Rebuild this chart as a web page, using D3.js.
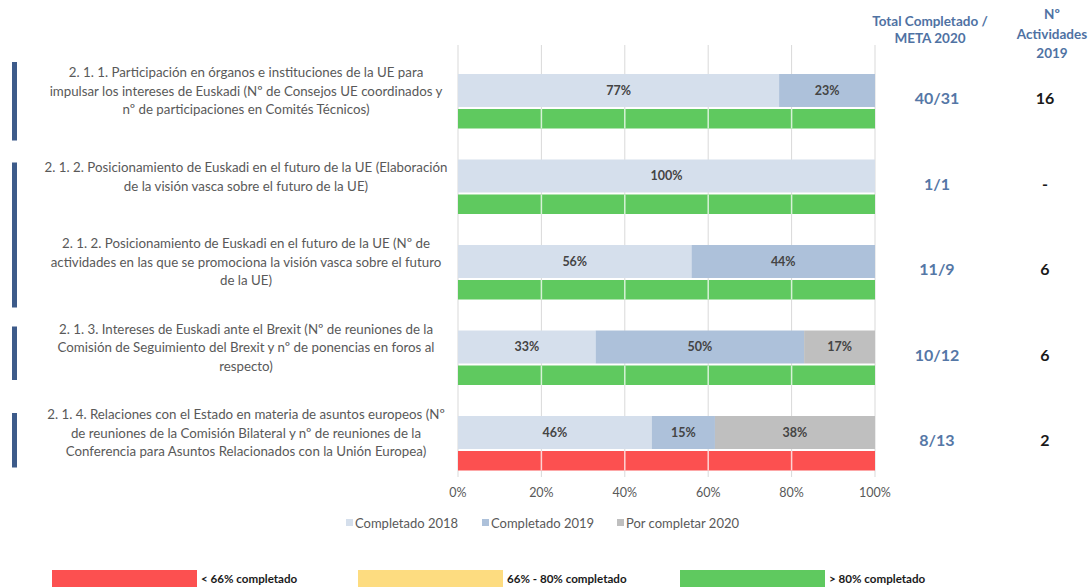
<!DOCTYPE html>
<html><head><meta charset="utf-8">
<script src="https://cdn.jsdelivr.net/npm/d3@7"></script>
<style>
html,body{margin:0;padding:0;background:#fff;}
svg{display:block;font-family:Lato,"Open Sans",sans-serif;}
</style></head>
<body>
<svg id="chart" width="1089" height="587"></svg>
<script>
// ---- data ----
const categories = [
  "2. 1. 1. Participación en órganos e instituciones de la UE para|impulsar los intereses de Euskadi (Nº de Consejos UE coordinados y|nº de participaciones en Comités Técnicos)",
  "2. 1. 2. Posicionamiento de Euskadi en el futuro de la UE (Elaboración|de la visión vasca sobre el futuro de la UE)",
  "2. 1. 2. Posicionamiento de Euskadi en el futuro de la UE (Nº de|actividades en las que se promociona la visión vasca sobre el futuro|de la UE)",
  "2. 1. 3. Intereses de Euskadi ante el Brexit (Nº de reuniones de la|Comisión de Seguimiento del Brexit y nº de ponencias en foros al|respecto)",
  "2. 1. 4. Relaciones con el Estado en materia de asuntos europeos (Nº|de reuniones de la Comisión Bilateral y nº de reuniones de la|Conferencia para Asuntos Relacionados con la Unión Europea)"
];
const seriesNames = ["Completado 2018", "Completado 2019", "Por completar 2020"];
const completado2018 = [77, 100, 56, 33, 46];
const completado2019 = [23, 0, 44, 50, 15];
const porCompletar2020 = [0, 0, 0, 17, 38];
const statusLevel = ["alto", "alto", "alto", "alto", "bajo"];
const totalMeta = ["40/31", "1/1", "11/9", "10/12", "8/13"];
const actividades2019 = ["16", "-", "6", "6", "2"];
const markerGroups = [[0], [1, 2], [3], [4]];
const xTicks = [0, 20, 40, 60, 80, 100];
const statusLegend = [
  {key: "bajo", label: "< 66% completado"},
  {key: "medio", label: "66% - 80% completado"},
  {key: "alto", label: "> 80% completado"}
];

// ---- styles ----
const seriesColors = ["#d5dfec", "#adc1da", "#bfbfbf"];
const statusColors = {bajo: "#fc5050", medio: "#fddc80", alto: "#5fc95f"};

const svg = d3.select("#chart");
const x = d3.scaleLinear().domain([0, 100]).range([458, 875]);
const idx = d3.range(categories.length);
const y = d3.scaleBand().domain(idx).range([47, 474.5]).padding(0);

const rows = idx.map(i => ({i, a: completado2018[i], b: completado2019[i], c: porCompletar2020[i]}));
const stack = d3.stack().keys(["a", "b", "c"]).offset(d3.stackOffsetExpand);
const stacked = stack(rows);

// gridlines
svg.append("g").selectAll("line").data(xTicks).join("line")
  .attr("x1", d => x(d)).attr("x2", d => x(d))
  .attr("y1", 45).attr("y2", 477)
  .attr("stroke", "#d9d9d9").attr("stroke-width", 1);

// stacked bars
const barTop = 27, barH = 33;
const layers = svg.append("g").selectAll("g").data(stacked).join("g")
  .attr("fill", (d, k) => seriesColors[k]);
layers.selectAll("rect").data(d => d).join("rect")
  .attr("x", d => x(d[0] * 100))
  .attr("width", d => Math.max(0, x(d[1] * 100) - x(d[0] * 100)))
  .attr("y", d => y(d.data.i) + barTop)
  .attr("height", barH);

// percentage labels
const keys = ["a", "b", "c"];
stacked.forEach((layer, k) => {
  svg.append("g").selectAll("text").data(layer.filter(d => d.data[keys[k]] > 0)).join("text")
    .attr("x", d => x((d[0] + d[1]) / 2 * 100))
    .attr("y", d => y(d.data.i) + barTop + barH / 2)
    .attr("dy", "0.35em")
    .attr("text-anchor", "middle")
    .attr("font-size", 12.5).attr("font-weight", 700)
    .attr("fill", "#444")
    .text(d => d.data[keys[k]] + "%");
});

// status bars
const stTop = 62, stH = 19.5;
svg.append("g").selectAll("rect").data(idx).join("rect")
  .attr("x", x(0)).attr("width", x(100) - x(0))
  .attr("y", i => y(i) + stTop).attr("height", stH)
  .attr("fill", i => statusColors[statusLevel[i]]);
// white separators on status bars
idx.forEach(i => {
  svg.append("g").selectAll("line").data(xTicks.slice(1, -1)).join("line")
    .attr("x1", d => x(d)).attr("x2", d => x(d))
    .attr("y1", y(i) + stTop).attr("y2", y(i) + stTop + stH)
    .attr("stroke", "#fff").attr("stroke-opacity", 0.75).attr("stroke-width", 1.5);
});

// category labels
const lineH = 18.5;
idx.forEach(i => {
  const lines = categories[i].split("|");
  const cy = y(i) + y.bandwidth() / 2 + 1.5;
  const t = svg.append("text").attr("text-anchor", "middle")
    .attr("font-size", 13.3).attr("fill", "#595959");
  lines.forEach((ln, j) => {
    t.append("tspan").attr("x", 246)
      .attr("y", cy + (j - (lines.length - 1) / 2) * lineH)
      .attr("dy", "0.35em").text(ln);
  });
});

// left markers
const markerOffsets = [[15, 8], [30, 4], [23, -9], [24, -7]];
markerGroups.forEach((g, k) => {
  const top = y(g[0]) + markerOffsets[k][0];
  const bot = y(g[g.length - 1]) + y.bandwidth() + markerOffsets[k][1];
  svg.append("rect").attr("x", 12).attr("width", 5)
    .attr("y", top).attr("height", bot - top).attr("fill", "#3d5b8a");
});

// x axis tick labels
svg.append("g").selectAll("text").data(xTicks).join("text")
  .attr("x", d => x(d)).attr("y", 493).attr("dy", "0.35em")
  .attr("text-anchor", "middle").attr("font-size", 12.5).attr("fill", "#595959")
  .text(d => d + "%");

// series legend
const legX = [346, 482, 617];
seriesNames.forEach((n, k) => {
  svg.append("rect").attr("x", legX[k]).attr("y", 519).attr("width", 7).attr("height", 7)
    .attr("fill", seriesColors[k]);
  svg.append("text").attr("x", legX[k] + 9).attr("y", 523).attr("dy", "0.35em")
    .attr("font-size", 13).attr("fill", "#595959").text(n);
});

// right columns
const blue = "#5577a6";
const h1 = svg.append("text").attr("text-anchor", "middle").attr("font-size", 13.5)
  .attr("font-weight", 700).attr("fill", "#4f72a3");
h1.append("tspan").attr("x", 930).attr("y", 21).attr("dy", "0.35em").text("Total Completado /");
h1.append("tspan").attr("x", 930).attr("y", 38).attr("dy", "0.35em").text("META 2020");
const h2 = svg.append("text").attr("text-anchor", "middle").attr("font-size", 13.5)
  .attr("font-weight", 700).attr("fill", "#4f72a3");
h2.append("tspan").attr("x", 1052).attr("y", 14).attr("dy", "0.35em").text("Nº");
h2.append("tspan").attr("x", 1052).attr("y", 34).attr("dy", "0.35em").text("Actividades");
h2.append("tspan").attr("x", 1052).attr("y", 53).attr("dy", "0.35em").text("2019");

svg.append("g").selectAll("text").data(idx).join("text")
  .attr("x", 937).attr("y", i => y(i) + barTop + barH / 2 + 8).attr("dy", "0.35em")
  .attr("text-anchor", "middle").attr("font-size", 16).attr("font-weight", 700)
  .attr("fill", blue).text(i => totalMeta[i]);
svg.append("g").selectAll("text").data(idx).join("text")
  .attr("x", 1045).attr("y", i => y(i) + barTop + barH / 2 + 8).attr("dy", "0.35em")
  .attr("text-anchor", "middle").attr("font-size", 16).attr("font-weight", 700)
  .attr("fill", "#1a1a1a").text(i => actividades2019[i]);

// status legend
const sLegX = [52, 358, 680];
statusLegend.forEach((s, k) => {
  svg.append("rect").attr("x", sLegX[k]).attr("y", 570).attr("width", 145).attr("height", 20)
    .attr("fill", statusColors[s.key]);
  svg.append("text").attr("x", sLegX[k] + 149).attr("y", 579).attr("dy", "0.35em")
    .attr("font-size", 11.6).attr("font-weight", 700).attr("fill", "#1a1a1a").text(s.label);
});
</script>
</body></html>
